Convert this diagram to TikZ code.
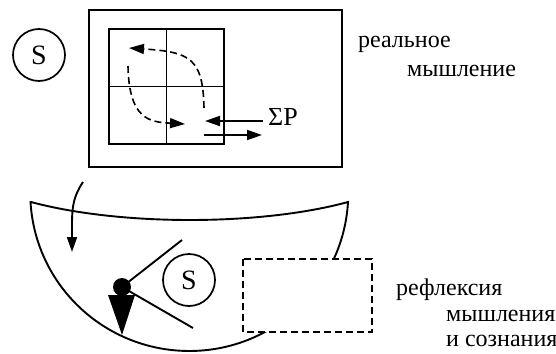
\documentclass[tikz,border=0pt]{standalone}
\usepackage{fontspec}
\setmainfont{Liberation Serif}
\usetikzlibrary{arrows.meta}
\begin{document}
\begin{tikzpicture}[x=1pt,y=-1pt,
  line/.style={line width=1.9pt},
  dline/.style={line width=1.6pt,dash pattern=on 7pt off 4pt},
  txt/.style={anchor=base west,inner sep=0pt,font=\fontsize{24}{26}\selectfont},
  snode/.style={circle,draw,line width=1.7pt,minimum size=52pt,inner sep=0pt,font=\fontsize{28}{30}\selectfont},
  bigtip/.style={-{Triangle[length=15pt,width=10pt]}},
]
\useasboundingbox (0,0) rectangle (556,353);
% upper part
\node[snode] (s1) at (39,55) {S};
\draw[line] (89,10) rectangle (342,167);
\draw[line] (109,29) rectangle (224,144);
\draw[line] (166.5,29) -- (166.5,144);
\draw[line] (109,86.5) -- (224,86.5);
\coordinate (d1s) at (204,108);
\coordinate (d1e) at (129,48);
\coordinate (d2s) at (128,66);
\coordinate (d2e) at (185,124);
\draw[dline,bigtip] (d1s) .. controls (203,58) and (190,52) .. (d1e);
\draw[dline,bigtip] (d2s) .. controls (129,120) and (150,122) .. (d2e);
\coordinate (p1s) at (263,121);
\coordinate (p1e) at (205,121);
\coordinate (p2s) at (204,135);
\coordinate (p2e) at (262,135);
\draw[line,bigtip] (p1s) -- (p1e);
\draw[line,bigtip] (p2s) -- (p2e);
\node[txt,font=\fontsize{26}{28}\selectfont] (sp) at (268,125) {ΣP};
\node[txt] (t1) at (358,48) {реальное};
\node[txt] (t2) at (407,76) {мышление};
% bowl
\draw[line] (31,202) .. controls (120,226) and (260,226) .. (348,202)
  arc[start angle=3.27,end angle=176.73,x radius=159,y radius=158] -- cycle;
\coordinate (c1) at (83,182);
\coordinate (c2) at (72,252);
\draw[line,bigtip] (c1) .. controls (71,200) and (72,212) .. (c2);
% person
\coordinate (head) at (122,287);
\coordinate (l1) at (182,240);
\coordinate (l2) at (193,328);
\draw[line] (head) -- (l1);
\draw[line] (head) -- (l2);
\fill (head) circle[radius=9];
\fill (108,295) -- (135,295) -- (122,335) -- cycle;
\node[snode] (s2) at (189,280) {S};
\draw[dline,fill=white] (243,259) rectangle (372,332);
\node[txt] (t3) at (396,295) {рефлексия};
\node[txt] (t4) at (446,321) {мышления};
\node[txt] (t5) at (446,346) {и сознания};
\end{tikzpicture}
\end{document}
